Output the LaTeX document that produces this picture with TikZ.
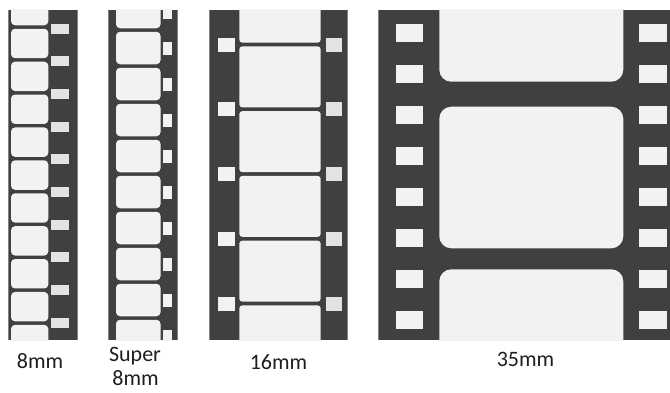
\documentclass[tikz,border=0pt]{standalone}
\usepackage{fontspec}
\setmainfont{Carlito}
\definecolor{filmdark}{HTML}{404040}
\definecolor{framefill}{HTML}{F2F2F2}
\definecolor{holedark}{HTML}{E3E3E3}
\definecolor{labeltext}{HTML}{1E1E1E}
\tikzset{
  filmbase/.style={fill=filmdark},
  framebox/.style={fill=framefill},
  holebox/.style={fill=framefill},
  holeboxd/.style={fill=holedark},
  lbl/.style={anchor=base, inner sep=0pt, text=labeltext, font=\fontsize{22}{26}\selectfont}
}
\begin{document}
\begin{tikzpicture}[x=1pt,y=-1pt]
\useasboundingbox[fill=white] (0,0) rectangle (670,392);

% ---------- 8mm ----------
\begin{scope}
  \clip (8.3,9.5) rectangle (77.7,340);
  \fill[filmbase] (8.3,9.5) rectangle (77.7,340);
  \foreach \k in {-1,...,9} {
    \pgfmathsetmacro{\ta}{27+32.9*\k+1.75}
    \pgfmathsetmacro{\tb}{27+32.9*(\k+1)-1.75}
    \fill[framebox, rounded corners=4pt] (11,\ta) rectangle (48.3,\tb);
  }
  \foreach \k in {0,...,9} {
    \pgfmathsetmacro{\ha}{28.5+32.7*\k-5}
    \pgfmathsetmacro{\hb}{28.5+32.7*\k+5}
    \fill[holeboxd] (51,\ha) rectangle (69,\hb);
  }
\end{scope}

% ---------- Super 8 ----------
\begin{scope}
  \clip (108.3,9.5) rectangle (177.7,340);
  \fill[filmbase] (108.3,9.5) rectangle (177.7,340);
  \foreach \k in {-1,...,9} {
    \pgfmathsetmacro{\ta}{30+36*\k+1.75}
    \pgfmathsetmacro{\tb}{30+36*(\k+1)-1.75}
    \fill[framebox, rounded corners=4pt] (116,\ta) rectangle (160.5,\tb);
  }
  \foreach \k in {0,...,9} {
    \pgfmathsetmacro{\ha}{12+36*\k-6.5}
    \pgfmathsetmacro{\hb}{12+36*\k+6.5}
    \fill[holebox] (162.7,\ha) rectangle (172.3,\hb);
  }
\end{scope}

% ---------- 16mm ----------
\begin{scope}
  \clip (209.3,9.5) rectangle (347.7,340);
  \fill[filmbase] (209.3,9.5) rectangle (347.7,340);
  \foreach \k in {-1,...,4} {
    \pgfmathsetmacro{\ta}{44.5+64.75*\k+1.9}
    \pgfmathsetmacro{\tb}{44.5+64.75*(\k+1)-1.9}
    \fill[framebox, rounded corners=3pt] (239.3,\ta) rectangle (320.7,\tb);
  }
  \foreach \k in {0,...,4} {
    \pgfmathsetmacro{\ha}{44.5+64.75*\k-7}
    \pgfmathsetmacro{\hb}{44.5+64.75*\k+7}
    \fill[holebox] (218.3,\ha) rectangle (235,\hb);
    \fill[holeboxd] (325.7,\ha) rectangle (341.7,\hb);
  }
\end{scope}

% ---------- 35mm ----------
\begin{scope}
  \clip (378.3,9.5) rectangle (670,340);
  \fill[filmbase] (378.3,9.5) rectangle (670,340);
  \fill[framebox, rounded corners=12pt] (439.3,-60) rectangle (623.3,81.7);
  \fill[framebox, rounded corners=12pt] (439.3,106.7) rectangle (623.3,248.3);
  \fill[framebox, rounded corners=12pt] (439.3,269.3) rectangle (623.3,420);
  \foreach \k in {0,...,7} {
    \pgfmathsetmacro{\ha}{32.5+41.1*\k-9}
    \pgfmathsetmacro{\hb}{32.5+41.1*\k+9}
    \fill[holebox] (395.7,\ha) rectangle (423.3,\hb);
    \fill[holebox] (639,\ha) rectangle (666.7,\hb);
  }
\end{scope}

% ---------- labels ----------
\node[lbl] (l8) at (40,368.3) {8mm};
\node[lbl] (lsuper) at (135,361) {Super};
\node[lbl] (lsuper8) at (135.5,385.5) {8mm};
\node[lbl] (l16) at (278.5,369.3) {16mm};
\node[lbl] (l35) at (525.5,366) {35mm};
\end{tikzpicture}
\end{document}
